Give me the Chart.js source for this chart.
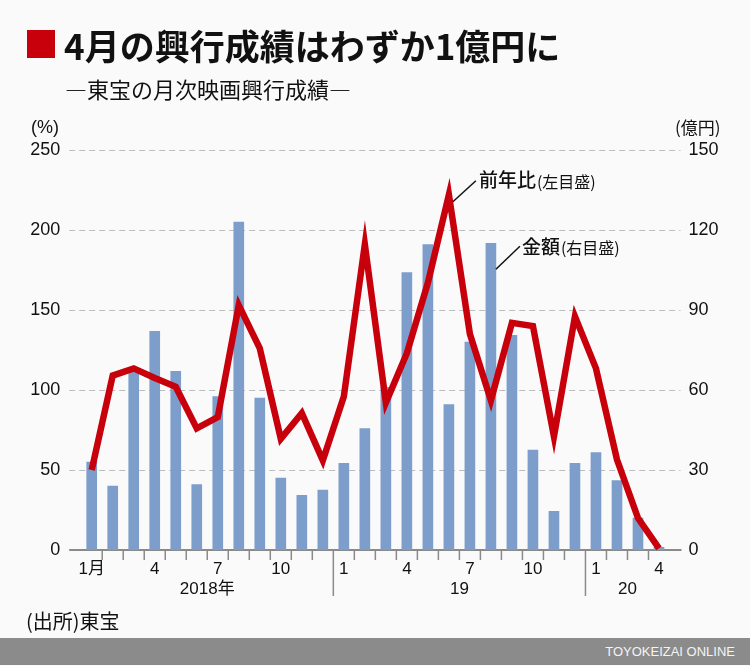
<!DOCTYPE html>
<html lang="ja">
<head>
  <meta charset="UTF-8">
  <title>4月の興行成績はわずか1億円に</title>
  <style>
    body { margin: 0; background: #fafafa; }
    #wrap {
      position: relative; width: 750px; height: 666px; overflow: hidden;
      background: #fafafa; color: #111;
      font-family: "Noto Sans CJK JP", sans-serif;
    }
    #chart-box { position: absolute; left: 0; top: 0; width: 750px; height: 666px; }
    .mark { position: absolute; left: 27px; top: 30px; width: 28px; height: 28px; background: #c8000b; }
    h1 {
      position: absolute; left: 64px; top: 26px; margin: 0;
      font-size: 35px; line-height: 38px; font-weight: 700; white-space: nowrap;
    }
    .sub { position: absolute; left: 65px; top: 75px; font-size: 22px; line-height: 26px; white-space: nowrap; }
    .src { position: absolute; left: 26px; top: 609px; font-size: 20px; line-height: 24px; }
    footer {
      position: absolute; left: 0; top: 638px; width: 750px; height: 27px; background: #8b8b8b;
      color: #f4f4f4; font-family: "Liberation Sans", Arial, sans-serif; font-size: 13px;
      line-height: 27px; text-align: right; box-sizing: border-box; padding-right: 15px;
    }
  </style>
</head>
<body>
  <div id="wrap">
    <div id="chart-box"><canvas id="toho"></canvas></div>
    <div class="mark"></div>
    <h1>4月の興行成績はわずか1億円に</h1>
    <div class="sub">—東宝の月次映画興行成績—</div>
    <div class="src">(出所)東宝</div>
    <footer>TOYOKEIZAI ONLINE</footer>
  </div>
  <script src="https://cdn.jsdelivr.net/npm/chart.js"></script>
  <script>
    // 2018年1月〜2020年4月
    const months = ['1月','2','3','4','5','6','7','8','9','10','11','12',
                    '1','2','3','4','5','6','7','8','9','10','11','12',
                    '1','2','3','4'];
    const shownMonths = ['1月','1','4','7','10'];
    const years = ['2018年','19','20'];
    const yearStart = [0, 12, 24];

    // 金額（億円、右目盛）
    const amount = [33, 24, 67, 82, 67, 24.5, 57.5, 123, 57, 27, 20.5, 22.5,
                    32.5, 45.5, 61, 104, 114.5, 54.5, 78, 115, 80.5, 37.5, 14.5, 32.5,
                    36.5, 26, 12, 1];
    // 前年比（%、左目盛）
    const yoy = [50, 109, 113.5, 107.5, 102, 76, 83, 153, 126, 69.5, 85.5, 56,
                 96, 191, 92, 123, 167, 222, 135, 93.5, 142, 140, 71, 146,
                 113.5, 56.5, 20, 1];

    const leftTicks = [0, 50, 100, 150, 200, 250];
    const rightTicks = [0, 30, 60, 90, 120, 150];

    const numFont = '"Liberation Sans", "Noto Sans CJK JP", sans-serif';
    const jpFont = '"Noto Sans CJK JP", sans-serif';

    // 破線グリッド・軸・目盛り・年ラベル
    const axisPlugin = {
      id: 'axisPlugin',
      beforeDatasetsDraw(chart) {
        const { ctx, chartArea: ca, scales } = chart;
        const x = scales.x, yr = scales.yR;
        ctx.save();
        ctx.strokeStyle = '#bdbdbd';
        ctx.lineWidth = 1;
        ctx.setLineDash([6, 4]);
        rightTicks.forEach(v => {
          if (v === 0) return;
          const y = Math.round(yr.getPixelForValue(v)) + 0.5;
          ctx.beginPath();
          ctx.moveTo(ca.left - 12, y);
          ctx.lineTo(ca.right + 11, y);
          ctx.stroke();
        });
        ctx.setLineDash([]);
        ctx.strokeStyle = '#8a8a8a';
        ctx.lineWidth = 2;
        ctx.beginPath();
        ctx.moveTo(ca.left - 12, ca.bottom);
        ctx.lineTo(ca.right + 12, ca.bottom);
        ctx.stroke();
        ctx.lineWidth = 1.5;
        for (let i = 1; i < months.length; i++) {
          const bx = (x.getPixelForValue(i - 1) + x.getPixelForValue(i)) / 2;
          const len = yearStart.includes(i) ? 46 : 10;
          ctx.beginPath();
          ctx.moveTo(bx, ca.bottom);
          ctx.lineTo(bx, ca.bottom + len);
          ctx.stroke();
        }
        ctx.fillStyle = '#111';
        ctx.font = '17px ' + numFont;
        ctx.textAlign = 'center';
        ctx.textBaseline = 'middle';
        years.forEach((label, k) => {
          const first = yearStart[k];
          const last = k + 1 < yearStart.length ? yearStart[k + 1] - 1 : months.length - 1;
          const cx = (x.getPixelForValue(first) + x.getPixelForValue(last)) / 2;
          ctx.fillText(label, cx, ca.bottom + 39);
        });
        // 単位
        ctx.font = '18px ' + numFont;
        ctx.textAlign = 'right';
        ctx.fillText('(%)', 59, ca.top - 22);
        ctx.textAlign = 'left';
        ctx.font = '17px ' + jpFont;
        ctx.fillText('(億円)', 675, ca.top - 22);
        ctx.restore();
      },
      afterDatasetsDraw(chart) {
        const { ctx, scales } = chart;
        const x = scales.x, yl = scales.yL, yr = scales.yR;
        ctx.save();
        ctx.strokeStyle = '#111';
        ctx.fillStyle = '#111';
        ctx.lineWidth = 1.5;
        ctx.textAlign = 'left';
        ctx.textBaseline = 'middle';

        // 前年比 (line peak)
        const px = x.getPixelForValue(17), py = yl.getPixelForValue(yoy[17]);
        ctx.beginPath();
        ctx.moveTo(px + 4, py + 7);
        ctx.lineTo(px + 27, py - 14);
        ctx.stroke();
        ctx.font = '500 19px ' + jpFont;
        ctx.fillText('前年比', px + 30, py - 15);
        let w = ctx.measureText('前年比').width;
        ctx.font = '16px ' + jpFont;
        ctx.fillText('(左目盛)', px + 31 + w, py - 13);

        // 金額 (bar)
        const bx = x.getPixelForValue(19), by = yr.getPixelForValue(amount[19]);
        ctx.beginPath();
        ctx.moveTo(bx + 5, by + 26);
        ctx.lineTo(bx + 29, by + 3);
        ctx.stroke();
        ctx.font = '500 19px ' + jpFont;
        ctx.fillText('金額', bx + 31, by + 3);
        w = ctx.measureText('金額').width;
        ctx.font = '16px ' + jpFont;
        ctx.fillText('(右目盛)', bx + 32 + w, by + 5);
        ctx.restore();
      }
    };

    new Chart(document.getElementById('toho'), {
      type: 'bar',
      data: {
        labels: months,
        datasets: [
          {
            type: 'line',
            label: '前年比',
            data: yoy,
            yAxisID: 'yL',
            borderColor: '#c8000b',
            borderWidth: 6.5,
            pointRadius: 0,
            tension: 0,
            clip: false,
          },
          {
            type: 'bar',
            label: '金額',
            data: amount,
            yAxisID: 'yR',
            backgroundColor: '#7d9dcb',
            barThickness: 10,
          },
        ],
      },
      options: {
        responsive: true,
        maintainAspectRatio: false,
        animation: false,
        layout: { padding: { top: 150, left: 0, right: 0, bottom: 0 } },
        plugins: { legend: { display: false }, tooltip: { enabled: false } },
        scales: {
          x: {
            grid: { display: false, drawTicks: false },
            border: { display: false },
            ticks: {
              autoSkip: false, maxRotation: 0, padding: 9, color: '#111',
              font: { size: 17, family: numFont },
              callback: (v, i) => shownMonths.includes(months[i]) ? months[i] : '',
            },
            afterFit: s => { s.height = 116; },
          },
          yL: {
            position: 'left', min: 0, max: 250,
            grid: { display: false, drawTicks: false },
            border: { display: false },
            afterBuildTicks: s => { s.ticks = leftTicks.map(v => ({ value: v })); },
            ticks: { padding: 21, color: '#111', font: { size: 18, family: numFont } },
            afterFit: s => { s.width = 81.2; },
          },
          yR: {
            position: 'right', min: 0, max: 150,
            grid: { display: false, drawTicks: false },
            border: { display: false },
            afterBuildTicks: s => { s.ticks = rightTicks.map(v => ({ value: v })); },
            ticks: { padding: 19, color: '#111', font: { size: 18, family: numFont } },
            afterFit: s => { s.width = 80.5; },
          },
        },
      },
      plugins: [axisPlugin],
    });
  </script>
</body>
</html>
